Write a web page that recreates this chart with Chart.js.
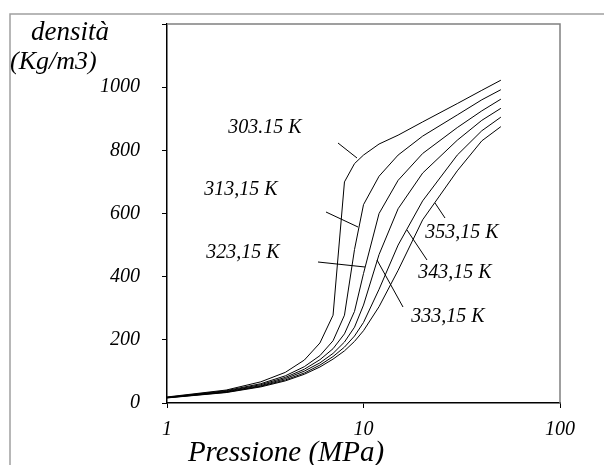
<!DOCTYPE html>
<html>
<head>
<meta charset="utf-8">
<script src="https://cdn.jsdelivr.net/npm/chart.js@4"></script>
<style>
  body { margin: 0; background: #fff; }
  canvas { display: block; }
</style>
</head>
<body>
<canvas id="densChart" width="604" height="465"></canvas>
<script>
  // pressione (MPa)
  const pressioni = [1, 2, 3, 4, 5, 6, 7, 8, 9, 10, 12, 15, 20, 30, 40, 50];
  // densità (kg/m3) per ogni isoterma
  const d303 = [19, 41, 67, 97, 136, 190, 278, 700, 758, 785, 820, 848, 890, 948, 990, 1022];
  const d313 = [18, 39, 61, 86, 115, 150, 197, 278, 486, 628, 718, 785, 845, 912, 960, 992];
  const d323 = [17.5, 37, 58, 81, 107, 137, 172, 219, 290, 410, 600, 705, 790, 872, 925, 962];
  const d333 = [17, 35.5, 55, 77, 101, 127, 157, 193, 240, 310, 470, 615, 728, 832, 895, 933];
  const d343 = [16.5, 34, 53, 73, 95, 120, 147, 177, 212, 255, 360, 500, 640, 785, 862, 905];
  const d353 = [16, 33, 51, 70, 91, 114, 139, 165, 195, 229, 305, 420, 580, 735, 830, 875];
  const isoterme = ['303.15 K', '313,15 K', '323,15 K', '333,15 K', '343,15 K', '353,15 K'];
  const xTicks = [1, 10, 100];
  const yTicks = [0, 200, 400, 600, 800, 1000];

  const serie = [d303, d313, d323, d333, d343, d353];
  const font = 'italic 20px "Liberation Serif"';

  // etichette con linea di richiamo (testo x,y ; linea x1,y1,x2,y2)
  const etichette = [
    [265, 128, 338, 143, 357, 158],
    [241, 190, 326, 212, 358, 227],
    [243, 253, 318, 262, 365, 267],
    [448, 317, 377, 260, 403, 307],
    [455, 273, 407, 230, 427, 260],
    [462, 233, 435, 203, 445, 218]
  ];

  const cornice = {
    id: 'cornice',
    beforeDraw(chart) {
      const c = chart.ctx;
      c.save();
      c.fillStyle = '#fff';
      c.fillRect(0, 0, chart.width, chart.height);
      c.strokeStyle = '#a0a0a0';
      c.lineWidth = 1.5;
      c.beginPath();
      c.moveTo(10, 465); c.lineTo(10, 14); c.lineTo(604, 14);
      c.stroke();
      c.restore();
    },
    afterDraw(chart) {
      const c = chart.ctx;
      const a = chart.chartArea;
      c.save();
      c.strokeStyle = '#808080';
      c.lineWidth = 1.5;
      c.beginPath();
      c.moveTo(a.left, a.top); c.lineTo(a.right, a.top); c.lineTo(a.right, a.bottom);
      c.stroke();

      c.fillStyle = '#000';
      c.textBaseline = 'middle';
      c.textAlign = 'left';
      c.font = 'italic 27px "Liberation Serif"';
      c.fillText('densità', 31, 33);
      c.font = 'italic 26px "Liberation Serif"';
      c.fillText('(Kg/m3)', 10, 62);
      c.textAlign = 'center';
      c.font = 'italic 29px "Liberation Serif"';
      c.fillText('Pressione (MPa)', 286, 453);

      c.font = font;
      c.strokeStyle = '#000';
      c.lineWidth = 1;
      etichette.forEach((e, i) => {
        c.fillText(isoterme[i], e[0], e[1]);
        c.beginPath();
        c.moveTo(e[2], e[3]); c.lineTo(e[4], e[5]);
        c.stroke();
      });
      c.restore();
    }
  };

  const ctx = document.getElementById('densChart').getContext('2d');
  const densChart = new Chart(ctx, {
    type: 'line',
    data: {
      datasets: serie.map((s, i) => ({
        label: isoterme[i],
        data: pressioni.map((p, j) => ({ x: p, y: s[j] })),
        borderColor: '#000',
        borderWidth: 1,
        pointRadius: 0,
        tension: 0
      }))
    },
    options: {
      responsive: false,
      animation: false,
      layout: { padding: { left: 0, top: 24, right: 44, bottom: 0 } },
      plugins: { legend: { display: false }, tooltip: { enabled: false } },
      scales: {
        x: {
          type: 'logarithmic',
          min: 1,
          max: 100,
          afterFit: s => { s.height = 62; s.paddingLeft = 0; s.paddingRight = 0; },
          afterBuildTicks: s => { s.ticks = xTicks.map(v => ({ value: v })); },
          ticks: {
            callback: v => String(v),
            color: '#000',
            font: { family: 'Liberation Serif', style: 'italic', size: 20 },
            padding: 10,
            maxRotation: 0
          },
          grid: { drawOnChartArea: false, tickLength: 5, color: '#000' },
          border: { color: '#000', width: 1.5 }
        },
        y: {
          min: 0,
          max: 1200,
          afterFit: s => { s.width = 167; s.paddingTop = 0; s.paddingBottom = 0; },
          afterBuildTicks: s => { s.ticks = yTicks.concat([1200]).map(v => ({ value: v })); },
          ticks: {
            callback: v => (v === 1200 ? '' : String(v)),
            color: '#000',
            font: { family: 'Liberation Serif', style: 'italic', size: 20 },
            padding: 22
          },
          grid: { drawOnChartArea: false, tickLength: 5, color: '#000' },
          border: { color: '#000', width: 1.5 }
        }
      }
    },
    plugins: [cornice]
  });
</script>
</body>
</html>
